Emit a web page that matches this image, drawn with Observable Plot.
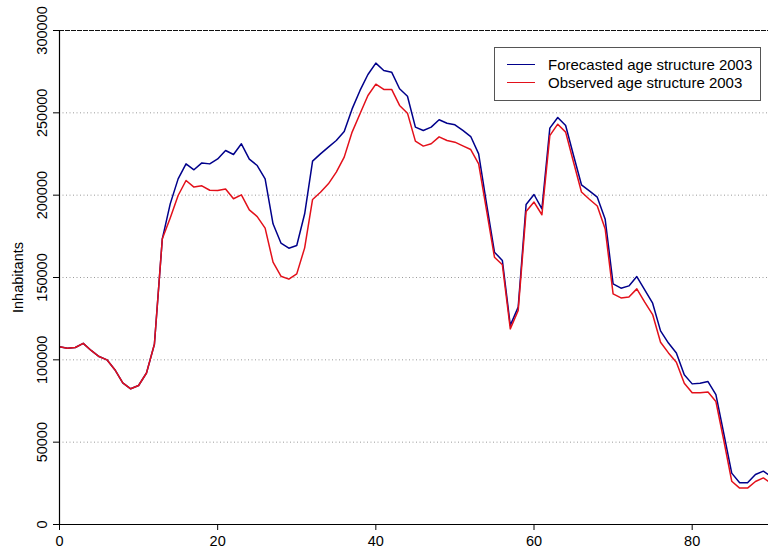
<!DOCTYPE html>
<html>
<head>
<meta charset="utf-8">
<script src="https://cdn.jsdelivr.net/npm/d3@7"></script>
<script src="https://cdn.jsdelivr.net/npm/@observablehq/plot@0.6"></script>
<style>
  html, body { margin: 0; padding: 0; background: #fff; }
  #wrap { position: relative; width: 768px; height: 548px; font-family: "Liberation Sans", Arial, Helvetica, sans-serif; }
  #legend { position: absolute; left: 494px; top: 47px; width: 265px; height: 52px; border: 1.5px solid #555; background: #fff; }
  .row { position: absolute; left: 0; height: 18px; line-height: 18px; font-size: 15px; color: #000; white-space: nowrap; }
  .swatch { position: absolute; left: 12px; top: 8px; width: 28px; height: 0; border-top: 1.5px solid; }
  .lab { position: absolute; left: 53px; top: 0; }
</style>
</head>
<body>
<div id="wrap"></div>
<script>
// Age in years (x axis)
const ages = d3.range(0, 91);

// Forecasted number of inhabitants per age, 2003
const forecast = [
  108000, 107000, 107500, 110000, 105700, 102000, 100000, 94000, 86000, 82400,
  84400, 92000, 109500, 173500, 194700, 209900, 219000, 215400, 219600, 219000,
  222000, 227100, 224700, 231200, 221900, 218000, 209900, 182600, 170900, 167800,
  169400, 188700, 220700, 225100, 229200, 233200, 238700, 252400, 263600, 273300,
  280200, 275700, 274700, 264600, 260100, 241300, 239300, 241300, 245800, 243700,
  242700, 239300, 235600, 225100, 194700, 165400, 160300, 120900, 132000, 194300,
  200400, 191700, 240700, 247200, 242300, 224100, 206300, 202600, 198800, 185300,
  146100, 143500, 144900, 150600, 142500, 134400, 117600, 110200, 104100, 90900,
  85400, 85800, 86800, 78900, 55100, 31200, 25300, 25300, 30400, 32400,
  29000
];

// Observed number of inhabitants per age, 2003
const observed = [
  108000, 107000, 107500, 110000, 105700, 102000, 100000, 94000, 86000, 82400,
  84400, 92000, 109500, 173500, 186200, 199800, 208900, 204900, 205700, 203000,
  202800, 203800, 197800, 200200, 191100, 187000, 180000, 159300, 150800, 149000,
  152200, 168000, 197400, 201800, 206900, 214000, 223100, 238300, 249400, 260500,
  267400, 264200, 264200, 254500, 249800, 232800, 229800, 231200, 235400, 233200,
  232200, 229900, 227700, 219000, 190700, 162300, 157700, 118800, 130000, 190100,
  195800, 188100, 236200, 243100, 238300, 220000, 201900, 197500, 193400, 179500,
  140100, 137600, 138100, 143100, 135000, 127500, 110700, 104200, 98600, 85800,
  80000, 80000, 80400, 74700, 51000, 26300, 22100, 22100, 26100, 28300,
  25000
];

const seriesNames = ["Forecasted age structure 2003", "Observed age structure 2003"];
const seriesColors = ["#00008b", "#e3101a"];

const xTicks = [0, 20, 40, 60, 80];
const yTicks = [0, 50000, 100000, 150000, 200000, 250000, 300000];
const gridTicks = [50000, 100000, 150000, 200000, 250000];

const rowsF = ages.map((a, i) => ({age: a, value: forecast[i]}));
const rowsO = ages.map((a, i) => ({age: a, value: observed[i]}));

const chart = Plot.plot({
  width: 768,
  height: 548,
  marginLeft: 59,
  marginRight: 0,
  marginTop: 30,
  marginBottom: 24,
  style: {fontFamily: "'Liberation Sans', Arial, Helvetica, sans-serif", fontSize: "14.5px", color: "#000", background: "#fff"},
  x: {domain: [0, 89.65]},
  y: {domain: [0, 300000]},
  marks: [
    Plot.ruleY(gridTicks, {stroke: "#9a9a9a", strokeDasharray: "1,2.5", strokeWidth: 1}),
    Plot.ruleY([300000], {stroke: "#111", strokeDasharray: "5,1", strokeWidth: 1.2}),
    Plot.line(rowsF, {x: "age", y: "value", stroke: seriesColors[0], strokeWidth: 1.5, clip: true}),
    Plot.line(rowsO, {x: "age", y: "value", stroke: seriesColors[1], strokeWidth: 1.5, clip: true}),
    Plot.ruleX([0], {stroke: "#000", strokeWidth: 1.2}),
    Plot.ruleY([0], {stroke: "#000", strokeWidth: 1.2}),
    Plot.axisX({ticks: xTicks, tickSize: 6, tickPadding: 5, tickFormat: d => String(d), label: null}),
    Plot.axisY({ticks: yTicks, tickSize: 6, tickRotate: -90, tickPadding: 7, tickFormat: d => String(d), label: null}),
    Plot.text(["Inhabitants"], {frameAnchor: "left", rotate: -90, dx: -37, textAnchor: "middle", lineAnchor: "bottom", text: d => d, fontSize: 14.5})
  ]
});

const wrap = document.getElementById("wrap");
wrap.appendChild(chart);

// Legend box over the plot area
const legend = document.createElement("div");
legend.id = "legend";
seriesNames.forEach((name, i) => {
  const row = document.createElement("div");
  row.className = "row";
  row.style.top = (8 + i * 17.6) + "px";
  row.style.width = "100%";
  const sw = document.createElement("span");
  sw.className = "swatch";
  sw.style.borderTopColor = seriesColors[i];
  const lab = document.createElement("span");
  lab.className = "lab";
  lab.textContent = name;
  row.appendChild(sw);
  row.appendChild(lab);
  legend.appendChild(row);
});
wrap.appendChild(legend);
</script>
</body>
</html>
